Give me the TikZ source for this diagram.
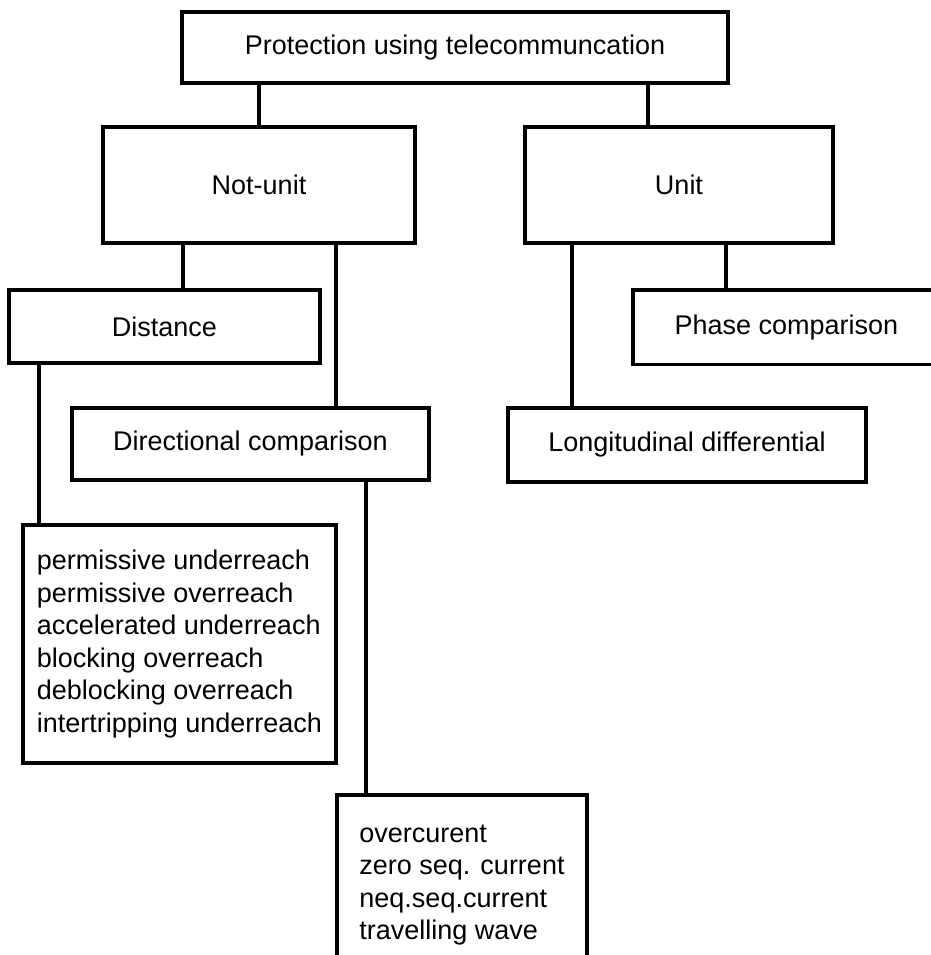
\documentclass[tikz,border=0pt]{standalone}
\usepackage{fontspec}
\setmainfont{Liberation Sans}
\usetikzlibrary{arrows}

\begin{document}
\begin{tikzpicture}[x=0.5pt,y=-0.5pt,line width=1.7pt,
        main node/.style={rectangle,draw,inner sep=0pt,font=\fontsize{13.5}{16.25}\selectfont},
        list node/.style={main node,align=left}]
        \useasboundingbox (0,0) rectangle (931,955);
        \node[main node,minimum width=273pt,minimum height=35.5pt] (prot) at (455,47.5) {Protection using telecommuncation};
        \node[main node,minimum width=156pt,minimum height=58pt] (notunit) at (259,185) {Not-unit};
        \node[main node,minimum width=154pt,minimum height=58pt] (unit) at (679,185) {Unit};
        \node[main node,minimum width=155.5pt,minimum height=36.5pt] (distance) at (164.5,326.5) {Distance};
        \node[main node,minimum width=153.5pt,minimum height=37.25pt] (phase) at (786.5,327.25) {Phase comparison};
        \node[main node,minimum width=178.5pt,minimum height=36pt] (directional) at (250.5,444) {Directional comparison};
        \node[main node,minimum width=179pt,minimum height=37pt] (longitudinal) at (687,445) {Longitudinal differential};
        \node[list node,minimum width=156.5pt,minimum height=119pt] (schemes) at (179.5,644) {permissive underreach\\permissive overreach\\accelerated underreach\\blocking overreach\\deblocking overreach\\intertripping underreach};
        \node[list node,minimum width=125pt,minimum height=90pt] (signals) at (462,885) {overcurent\\zero seq. current\\neq.seq.current\\travelling wave};
        \coordinate (x2) at (648,0);
        \coordinate (x3) at (183,0);
        \coordinate (x4) at (336,0);
        \coordinate (x5) at (572,0);
        \coordinate (x6) at (726,0);
        \coordinate (x7) at (39,0);
        \coordinate (x8) at (366,0);
        \draw (prot.south -| notunit) -- (notunit.north);
        \draw (prot.south -| x2) -- (unit.north -| x2);
        \draw (notunit.south -| x3) -- (distance.north -| x3);
        \draw (notunit.south -| x4) -- (directional.north -| x4);
        \draw (unit.south -| x5) -- (longitudinal.north -| x5);
        \draw (unit.south -| x6) -- (phase.north -| x6);
        \draw (distance.south -| x7) -- (schemes.north -| x7);
        \draw (directional.south -| x8) -- (signals.north -| x8);
\end{tikzpicture}
\end{document}
